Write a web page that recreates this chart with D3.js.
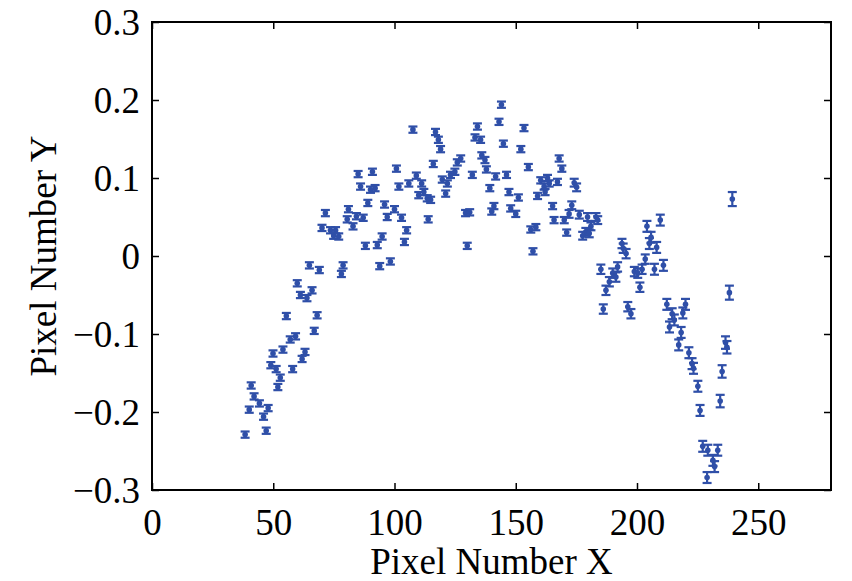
<!DOCTYPE html>
<html>
<head>
<meta charset="utf-8">
<script src="https://cdn.jsdelivr.net/npm/d3@7"></script>
<style>
  html, body { margin: 0; padding: 0; background: #fff; }
  svg { display: block; }
  text { font-family: "Liberation Serif", "Times New Roman", serif; }
</style>
</head>
<body>
<svg id="chart" width="852" height="581"></svg>
<script>
// ---- data ----
const xValues = [
  38.4, 47.1, 40.9, 42.1, 44.3, 40.1, 47.9, 46.0, 51.9, 52.9,
  49.0, 51.2, 58.0, 49.9, 54.0, 57.0, 59.2, 61.9, 63.1, 66.9,
  55.4, 68.1, 59.9, 61.2, 63.9, 66.0, 64.9, 69.0, 78.8, 78.1,
  71.5, 70.1, 73.6, 75.7, 74.9, 77.0, 81.0, 80.5, 84.3, 82.9,
  87.1, 85.0, 90.9, 86.0, 90.1, 92.0, 89.0, 95.9, 97.0, 100.0,
  88.0, 92.9, 94.9, 93.9, 98.3, 100.8, 101.8, 102.9, 105.0, 104.1,
  107.6, 105.9, 109.0, 111.2, 110.0, 112.1, 113.5, 114.9, 113.9, 116.9,
  118.1, 119.0, 116.0, 119.7, 121.8, 123.1, 124.9, 121.1, 125.9, 127.3,
  129.3, 131.0, 130.0, 132.1, 134.2, 133.2, 135.5, 136.0, 137.3, 137.9,
  139.3, 141.0, 140.1, 141.7, 146.2, 144.1, 143.1, 144.9, 147.2, 151.1,
  147.9, 150.0, 153.4, 152.1, 155.2, 156.2, 158.3, 157.1, 159.0, 160.3,
  161.7, 163.1, 163.8, 162.1, 167.2, 165.2, 167.9, 169.0, 165.8, 170.0,
  171.0, 174.1, 175.1, 173.1, 172.0, 176.2, 179.6, 183.1, 183.8, 181.0,
  178.9, 177.6, 180.3, 185.1, 186.1, 187.2, 188.6, 190.0, 192.0, 191.3,
  193.8, 194.3, 195.5, 196.2, 197.5, 198.9, 200.3, 201.2, 202.1, 203.4,
  204.1, 205.8, 205.1, 208.1, 207.2, 209.6, 210.9, 239.3, 238.1, 212.3,
  214.5, 215.4, 213.4, 218.2, 217.2, 220.0, 218.9, 221.4, 222.7, 223.3,
  225.1, 226.0, 236.5, 237.1, 235.1, 234.3, 227.1, 229.2, 233.3, 231.3,
  232.0, 228.9
];
const yValues = [
  -0.229, -0.224, -0.166, -0.180, -0.189, -0.197, -0.195, -0.206, -0.168, -0.156,
  -0.140, -0.145, -0.145, -0.125, -0.120, -0.107, -0.103, -0.132, -0.123, -0.096,
  -0.077, -0.076, -0.035, -0.050, -0.054, -0.044, -0.012, -0.018, -0.012, -0.023,
  0.055, 0.036, 0.033, 0.033, 0.026, 0.025, 0.060, 0.047, 0.051, 0.038,
  0.049, 0.105, 0.108, 0.089, 0.085, 0.087, 0.068, 0.066, 0.050, 0.060,
  0.013, 0.014, 0.025, -0.013, -0.007, 0.112, 0.089, 0.049, 0.033, 0.018,
  0.162, 0.093, 0.103, 0.093, 0.078, 0.082, 0.074, 0.072, 0.047, 0.159,
  0.149, 0.137, 0.118, 0.098, 0.093, 0.104, 0.108, 0.080, 0.120, 0.125,
  0.055, 0.056, 0.013, 0.104, 0.166, 0.152, 0.149, 0.129, 0.123, 0.111,
  0.087, 0.064, 0.057, 0.102, 0.104, 0.194, 0.172, 0.144, 0.082, 0.075,
  0.061, 0.054, 0.164, 0.137, 0.114, 0.034, 0.037, 0.006, 0.077, 0.097,
  0.089, 0.100, 0.093, 0.082, 0.095, 0.064, 0.125, 0.112, 0.046, 0.046,
  0.030, 0.094, 0.088, 0.065, 0.054, 0.053, 0.050, 0.050, 0.046, 0.038,
  0.031, 0.026, 0.029, -0.017, -0.068, -0.044, -0.033, -0.022, -0.014, -0.027,
  0.016, 0.010, 0.003, -0.065, -0.074, -0.020, -0.022, -0.040, -0.017, -0.004,
  0.038, 0.024, 0.016, 0.011, -0.017, 0.046, -0.012, 0.073, -0.047, -0.062,
  -0.074, -0.082, -0.091, -0.098, -0.114, -0.062, -0.073, -0.124, -0.138, -0.144,
  -0.167, -0.198, -0.111, -0.117, -0.148, -0.186, -0.244, -0.249, -0.249, -0.262,
  -0.270, -0.284
];
const yErrors = [
  0.004, 0.004, 0.004, 0.004, 0.004, 0.004, 0.004, 0.004, 0.004, 0.004,
  0.004, 0.004, 0.004, 0.004, 0.004, 0.004, 0.004, 0.004, 0.004, 0.004,
  0.004, 0.004, 0.004, 0.004, 0.004, 0.004, 0.004, 0.004, 0.004, 0.004,
  0.004, 0.004, 0.004, 0.004, 0.004, 0.004, 0.004, 0.004, 0.004, 0.004,
  0.004, 0.004, 0.004, 0.004, 0.004, 0.004, 0.004, 0.004, 0.004, 0.004,
  0.004, 0.004, 0.004, 0.004, 0.004, 0.004, 0.004, 0.004, 0.004, 0.004,
  0.004, 0.004, 0.004, 0.004, 0.004, 0.004, 0.004, 0.004, 0.004, 0.004,
  0.004, 0.004, 0.004, 0.004, 0.004, 0.004, 0.004, 0.004, 0.004, 0.004,
  0.004, 0.004, 0.004, 0.004, 0.004, 0.004, 0.004, 0.004, 0.004, 0.004,
  0.004, 0.004, 0.004, 0.004, 0.004, 0.004, 0.004, 0.004, 0.004, 0.004,
  0.004, 0.004, 0.004, 0.004, 0.004, 0.004, 0.004, 0.004, 0.004, 0.004,
  0.004, 0.004, 0.004, 0.004, 0.004, 0.004, 0.004, 0.004, 0.004, 0.004,
  0.004, 0.005, 0.005, 0.005, 0.005, 0.005, 0.005, 0.005, 0.005, 0.005,
  0.005, 0.005, 0.005, 0.006, 0.006, 0.006, 0.006, 0.006, 0.006, 0.006,
  0.006, 0.006, 0.006, 0.006, 0.006, 0.006, 0.006, 0.006, 0.006, 0.006,
  0.007, 0.007, 0.007, 0.007, 0.007, 0.007, 0.007, 0.009, 0.009, 0.007,
  0.007, 0.007, 0.007, 0.007, 0.007, 0.007, 0.007, 0.007, 0.007, 0.007,
  0.007, 0.007, 0.008, 0.008, 0.008, 0.008, 0.007, 0.007, 0.007, 0.007,
  0.007, 0.007
];
const xTicks = [0, 50, 100, 150, 200, 250];
const yTicks = [-0.3, -0.2, -0.1, 0, 0.1, 0.2, 0.3];
const xLabel = "Pixel Number X";
const yLabel = "Pixel Number Y";

// ---- layout ----
const plotL = 152, plotR = 831, plotT = 22, plotB = 490;
const markColor = "#2f4fa8";
const fontSize = 37;

const svg = d3.select("#chart");
const x = d3.scaleLinear().domain([0, 280]).range([plotL, plotR]);
const y = d3.scaleLinear().domain([-0.3, 0.3]).range([plotB, plotT]);

const fmtY = d => d === 0 ? "0" : (d < 0 ? "\u2212" + d3.format(".1f")(-d) : d3.format(".1f")(d));

const tickLen = 7;
const gB = svg.append("g").attr("transform", `translate(0,${plotB})`)
  .call(d3.axisBottom(x).tickValues(xTicks).tickSizeInner(-tickLen).tickSizeOuter(0).tickPadding(19).tickFormat(d3.format("d")));
const gT = svg.append("g").attr("transform", `translate(0,${plotT})`)
  .call(d3.axisTop(x).tickValues(xTicks).tickSizeInner(-tickLen).tickSizeOuter(0).tickFormat(""));
const gL = svg.append("g").attr("transform", `translate(${plotL},0)`)
  .call(d3.axisLeft(y).tickValues(yTicks).tickSizeInner(-tickLen).tickSizeOuter(0).tickPadding(12).tickFormat(fmtY));
const gR = svg.append("g").attr("transform", `translate(${plotR},0)`)
  .call(d3.axisRight(y).tickValues(yTicks).tickSizeInner(-tickLen).tickSizeOuter(0).tickFormat(""));

[gB, gT, gL, gR].forEach(g => {
  g.select(".domain").remove();
  g.selectAll(".tick line").attr("stroke", "#000").attr("stroke-width", 1.5);
  g.selectAll(".tick text").attr("font-size", fontSize).attr("fill", "#000")
    .style("font-family", '"Liberation Serif", "Times New Roman", serif');
});
gL.selectAll(".tick text").attr("dy", "0.34em");

svg.append("rect")
  .attr("x", plotL).attr("y", plotT)
  .attr("width", plotR - plotL).attr("height", plotB - plotT)
  .attr("fill", "none").attr("stroke", "#000").attr("stroke-width", 2);

const data = xValues.map((v, i) => ({ x: v, y: yValues[i], e: yErrors[i] }));
const capHalf = 4.5;
const pts = svg.append("g").attr("stroke", markColor).attr("fill", markColor);
const gp = pts.selectAll("g.pt").data(data).join("g").attr("class", "pt");
gp.append("line")
  .attr("x1", d => x(d.x)).attr("x2", d => x(d.x))
  .attr("y1", d => y(d.y - d.e)).attr("y2", d => y(d.y + d.e))
  .attr("stroke-width", 2.2);
gp.append("line")
  .attr("x1", d => x(d.x) - capHalf).attr("x2", d => x(d.x) + capHalf)
  .attr("y1", d => y(d.y + d.e)).attr("y2", d => y(d.y + d.e))
  .attr("stroke-width", 2.2);
gp.append("line")
  .attr("x1", d => x(d.x) - capHalf).attr("x2", d => x(d.x) + capHalf)
  .attr("y1", d => y(d.y - d.e)).attr("y2", d => y(d.y - d.e))
  .attr("stroke-width", 2.2);
gp.append("circle")
  .attr("cx", d => x(d.x)).attr("cy", d => y(d.y))
  .attr("r", 2.8).attr("stroke", "none");

svg.append("text")
  .attr("x", (plotL + plotR) / 2).attr("y", 574)
  .attr("text-anchor", "middle").attr("font-size", fontSize).attr("fill", "#000")
  .text(xLabel);
svg.append("text")
  .attr("transform", `translate(56,${(plotT + plotB) / 2}) rotate(-90)`)
  .attr("text-anchor", "middle").attr("font-size", fontSize).attr("fill", "#000")
  .text(yLabel);
</script>
</body>
</html>
